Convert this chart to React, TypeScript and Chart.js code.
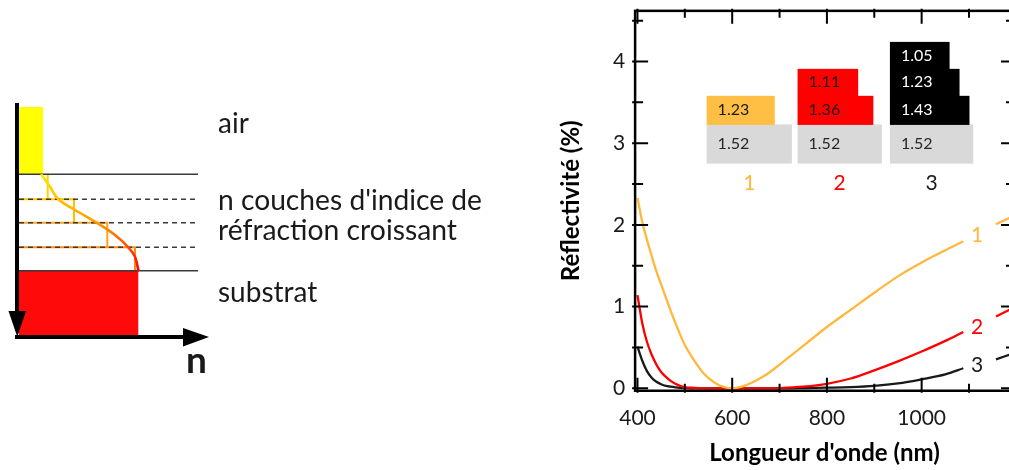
import React, { useEffect, useRef } from "react";
import { Chart, registerables } from "chart.js";

Chart.register(...registerables);

// ---------- data ----------
const wavelengths = [400, 410, 420, 430, 440, 450, 460, 470, 480, 490, 500, 520, 540, 560, 580, 600, 620, 640, 660, 680, 700, 750, 800, 850, 900, 950, 1000, 1050, 1088, 1120, 1157, 1195];
const reflect1 = [2.33, 2.04, 1.82, 1.62, 1.43, 1.27, 1.11, 0.95, 0.8, 0.66, 0.53, 0.34, 0.18, 0.08, 0.02, 0.0, 0.02, 0.065, 0.125, 0.2, 0.29, 0.52, 0.75, 0.96, 1.17, 1.37, 1.54, 1.69, 1.8, null, 2.01, 2.11];
const reflect2 = [1.14, 0.8, 0.57, 0.41, 0.29, 0.2, 0.14, 0.09, 0.055, 0.03, 0.015, 0.005, 0, 0, 0, 0, 0, 0, 0, 0, 0.003, 0.02, 0.055, 0.12, 0.22, 0.33, 0.45, 0.58, 0.69, null, 0.88, 0.99];
const reflect3 = [0.51, 0.34, 0.21, 0.13, 0.08, 0.05, 0.03, 0.02, 0.012, 0.006, 0.003, 0, 0, 0, 0, 0, 0, 0, 0, 0, 0, 0.003, 0.008, 0.015, 0.03, 0.06, 0.11, 0.17, 0.245, null, 0.355, 0.43];
const seriesNames = ["1", "2", "3"];
const seriesColors = ["#FFB83C", "#FF0000", "#1a1a1a"];

const xTickLabels = [400, 600, 800, 1000];
const xMinorTicks = [500, 700, 900, 1100];
const yTickLabels = [0, 1, 2, 3, 4];
const yMinorTicks = [0.5, 1.5, 2.5, 3.5, 4.5];

// inset: layered index stacks
const stackNames = ["1", "2", "3"];
const substrateIndex = ["1.52", "1.52", "1.52"];
const layerIndex = [["1.23"], ["1.36", "1.11"], ["1.43", "1.23", "1.05"]];

// ---------- layout constants (not data) ----------
const X_MIN = 395;
const X_MAX = 1195;
const Y_MIN = -0.03;
const Y_MAX = 4.62;
const insetLeft = [546, 738, 933];
const substrateRight = [726, 916, 1109];
const layerRight = [[690], [898, 866], [1101, 1080, 1059]];
const bandEdges = [2.75, 3.23, 3.58, 3.91, 4.24];
const insetColors = ["#FFBF44", "#FF0000", "#000000"];
const insetTextColors = ["#1a1a1a", "#1a1a1a", "#ffffff"];
const stackLabelColors = ["#FFB83C", "#FF0000", "#1a1a1a"];
const stackLabelY = 2.51;
const curveLabelX = 1117;
const curveLabelY = [1.87, 0.75, 0.28];

const FONT = "Lato, 'Open Sans', sans-serif";

const decorPlugin = {
  id: "decor",
  afterDatasetsDraw(chart: any) {
    const { ctx, chartArea: a } = chart;
    const xs = chart.scales.x;
    const ys = chart.scales.y;
    ctx.save();
    // frame
    ctx.strokeStyle = "#000";
    ctx.lineWidth = 2.5;
    ctx.strokeRect(a.left, a.top, a.right - a.left, a.bottom - a.top);
    // ticks
    ctx.lineWidth = 2;
    const vtick = (px: number, len: number) => {
      ctx.beginPath();
      ctx.moveTo(px, a.bottom + 2);
      ctx.lineTo(px, a.bottom - len);
      ctx.moveTo(px, a.top - 2);
      ctx.lineTo(px, a.top + len);
      ctx.stroke();
    };
    const htick = (py: number, len: number) => {
      ctx.beginPath();
      ctx.moveTo(a.left - 3, py);
      ctx.lineTo(a.left + len, py);
      ctx.moveTo(a.right + 3, py);
      ctx.lineTo(a.right - len, py);
      ctx.stroke();
    };
    xTickLabels.forEach((v) => vtick(xs.getPixelForValue(v), 13));
    xMinorTicks.forEach((v) => vtick(xs.getPixelForValue(v), 7));
    yTickLabels.forEach((v) => htick(ys.getPixelForValue(v), 13));
    yMinorTicks.forEach((v) => htick(ys.getPixelForValue(v), 8));

    // inset stacks
    const X = (v: number) => xs.getPixelForValue(v);
    const Y = (v: number) => ys.getPixelForValue(v);
    ctx.textBaseline = "middle";
    ctx.textAlign = "left";
    stackNames.forEach((name, g) => {
      const l = X(insetLeft[g]);
      ctx.fillStyle = "#D9D9D9";
      ctx.fillRect(l, Y(bandEdges[1]), X(substrateRight[g]) - l, Y(bandEdges[0]) - Y(bandEdges[1]));
      ctx.font = `16px ${FONT}`;
      ctx.fillStyle = "#262626";
      ctx.fillText(substrateIndex[g], l + 11, (Y(bandEdges[0]) + Y(bandEdges[1])) / 2);
      layerIndex[g].forEach((txt, k) => {
        const top = Y(bandEdges[k + 2]);
        const bot = Y(bandEdges[k + 1]);
        ctx.fillStyle = insetColors[g];
        ctx.fillRect(l, top, X(layerRight[g][k]) - l, bot - top + 0.5);
        ctx.fillStyle = insetTextColors[g];
        ctx.fillText(txt, l + 11, (top + bot) / 2);
      });
      ctx.textAlign = "center";
      ctx.font = `21px ${FONT}`;
      ctx.fillStyle = stackLabelColors[g];
      ctx.fillText(name, (X(insetLeft[g]) + X(substrateRight[g])) / 2, Y(stackLabelY));
      ctx.textAlign = "left";
    });

    // curve labels
    ctx.textAlign = "center";
    ctx.font = `21px ${FONT}`;
    seriesNames.forEach((n, i) => {
      ctx.fillStyle = seriesColors[i];
      ctx.fillText(n, X(curveLabelX), Y(curveLabelY[i]));
    });
    ctx.restore();
  },
};

function ReflectanceChart() {
  const ref = useRef<HTMLCanvasElement | null>(null);
  useEffect(() => {
    if (!ref.current) return;
    const mk = (vals: (number | null)[]) => wavelengths.map((w, i) => ({ x: w, y: vals[i] }));
    const chart = new Chart(ref.current, {
      type: "line",
      data: {
        datasets: [reflect1, reflect2, reflect3].map((vals, i) => ({
          label: seriesNames[i],
          data: mk(vals) as any,
          borderColor: seriesColors[i],
          borderWidth: 2.3,
          pointRadius: 0,
          cubicInterpolationMode: "monotone" as const,
          spanGaps: false,
          fill: false,
        })),
      },
      options: {
        responsive: false,
        animation: false,
        devicePixelRatio: 1,
        layout: { padding: { left: 554, right: 86, top: 10.85, bottom: 0 } },
        plugins: { legend: { display: false }, tooltip: { enabled: false } },
        scales: {
          x: {
            type: "linear",
            min: X_MIN,
            max: X_MAX,
            grid: { display: false, drawTicks: false },
            border: { display: false },
            afterBuildTicks: (s: any) => {
              s.ticks = xTickLabels.map((v) => ({ value: v }));
            },
            afterFit: (s: any) => {
              s.height = 79.25;
              s.paddingLeft = 0;
              s.paddingRight = 0;
            },
            ticks: {
              padding: 15,
              maxRotation: 0,
              autoSkip: false,
              color: "#1a1a1a",
              font: { family: FONT, size: 21 },
              callback: (v: any) => String(v),
            },
            title: {
              display: true,
              text: "Longueur d'onde (nm)",
              color: "#000",
              font: { family: FONT, size: 24, weight: "bold" },
              padding: { top: 0, bottom: 2 },
            },
          },
          y: {
            type: "linear",
            min: Y_MIN,
            max: Y_MAX,
            grid: { display: false, drawTicks: false },
            border: { display: false },
            afterBuildTicks: (s: any) => {
              s.ticks = yTickLabels.map((v) => ({ value: v }));
            },
            afterFit: (s: any) => {
              s.width = 81.1;
              s.paddingTop = 0;
              s.paddingBottom = 0;
            },
            ticks: {
              padding: 10,
              color: "#1a1a1a",
              font: { family: FONT, size: 21 },
              callback: (v: any) => String(v),
            },
            title: {
              display: true,
              text: "Réflectivité (%)",
              color: "#000",
              font: { family: FONT, size: 24, weight: "bold" },
              padding: { top: 3, bottom: 0 },
            },
          },
        },
      },
      plugins: [decorPlugin],
    });
    return () => chart.destroy();
  }, []);
  return (
    <canvas
      ref={ref}
      width={1100}
      height={470}
      style={{ position: "absolute", left: 0, top: 0, width: 1100, height: 470 }}
    />
  );
}

function smoothPath(pts: number[][]) {
  let d = `M${pts[0][0]},${pts[0][1]}`;
  for (let i = 0; i < pts.length - 1; i++) {
    const p0 = pts[Math.max(0, i - 1)];
    const p1 = pts[i];
    const p2 = pts[i + 1];
    const p3 = pts[Math.min(pts.length - 1, i + 2)];
    const c1 = [p1[0] + (p2[0] - p0[0]) / 6, p1[1] + (p2[1] - p0[1]) / 6];
    const c2 = [p2[0] - (p3[0] - p1[0]) / 6, p2[1] - (p3[1] - p1[1]) / 6];
    d += ` C${c1[0]},${c1[1]} ${c2[0]},${c2[1]} ${p2[0]},${p2[1]}`;
  }
  return d;
}

function Schematic() {
  const curvePts = [
    [41.7, 175], [50, 186.7], [58.3, 199.3], [75, 210], [96.7, 222.7],
    [115, 235], [128.3, 247.3], [135, 256.7], [138.3, 270],
  ];
  const textColor = "#1a1a1a";
  return (
    <svg
      width={560}
      height={470}
      style={{ position: "absolute", left: 0, top: 0 }}
      xmlns="http://www.w3.org/2000/svg"
    >
      <defs>
        <linearGradient id="gradCurve" gradientUnits="userSpaceOnUse" x1="0" y1="175" x2="0" y2="270">
          <stop offset="0" stopColor="#FFE600" />
          <stop offset="0.5" stopColor="#FF9C00" />
          <stop offset="1" stopColor="#FF0000" />
        </linearGradient>
      </defs>
      <rect x={19} y={107} width={24} height={67.5} fill="#FFFF00" />
      <rect x={19} y={270.7} width={119.3} height={66} fill="#FF0A0A" />
      <g strokeWidth={2} fill="none">
        <path d="M47.7,174.5 V199.3" stroke="#FFD400" />
        <path d="M19,199.3 H74 V222.7" stroke="#FFC000" />
        <path d="M19,222.7 H107.3 V247.3" stroke="#FFA41C" />
        <path d="M19,247.3 H135 V270.7" stroke="#FF8A14" />
      </g>
      <line x1={19} y1={174.3} x2={198} y2={174.3} stroke="#3a3a3a" strokeWidth={1.5} />
      <line x1={19} y1={270.7} x2={198} y2={270.7} stroke="#3a3a3a" strokeWidth={1.5} />
      {[199.3, 222.7, 247.3].map((y) => (
        <line key={y} x1={19} y1={y} x2={198} y2={y} stroke="#3a3a3a" strokeWidth={1.5} strokeDasharray="5 4" />
      ))}
      <path d={smoothPath(curvePts)} stroke="url(#gradCurve)" strokeWidth={2.6} fill="none" strokeLinecap="round" />
      <line x1={17} y1={103} x2={17} y2={315} stroke="#000" strokeWidth={4} />
      <polygon points="8.5,311 26,311 17.3,337" fill="#000" />
      <line x1={15} y1={337} x2={186} y2={337} stroke="#000" strokeWidth={4} />
      <polygon points="183,328 183,346.5 209,337" fill="#000" />
      <text x={186} y={373} fontFamily={FONT} fontWeight="bold" fontSize={37} fill={textColor}>n</text>
      <g fontFamily={FONT} fontSize={28} fill={textColor}>
        <text x={218} y={133}>air</text>
        <text x={218} y={210} textLength={264} lengthAdjust="spacingAndGlyphs">n couches d'indice de</text>
        <text x={218} y={240} textLength={239} lengthAdjust="spacingAndGlyphs">réfraction croissant</text>
        <text x={218} y={301.7}>substrat</text>
      </g>
    </svg>
  );
}

export default function App() {
  return (
    <div
      style={{
        position: "absolute",
        left: 0,
        top: 0,
        width: 1009,
        height: 470,
        overflow: "hidden",
        background: "#fff",
      }}
    >
      <ReflectanceChart />
      <Schematic />
    </div>
  );
}
